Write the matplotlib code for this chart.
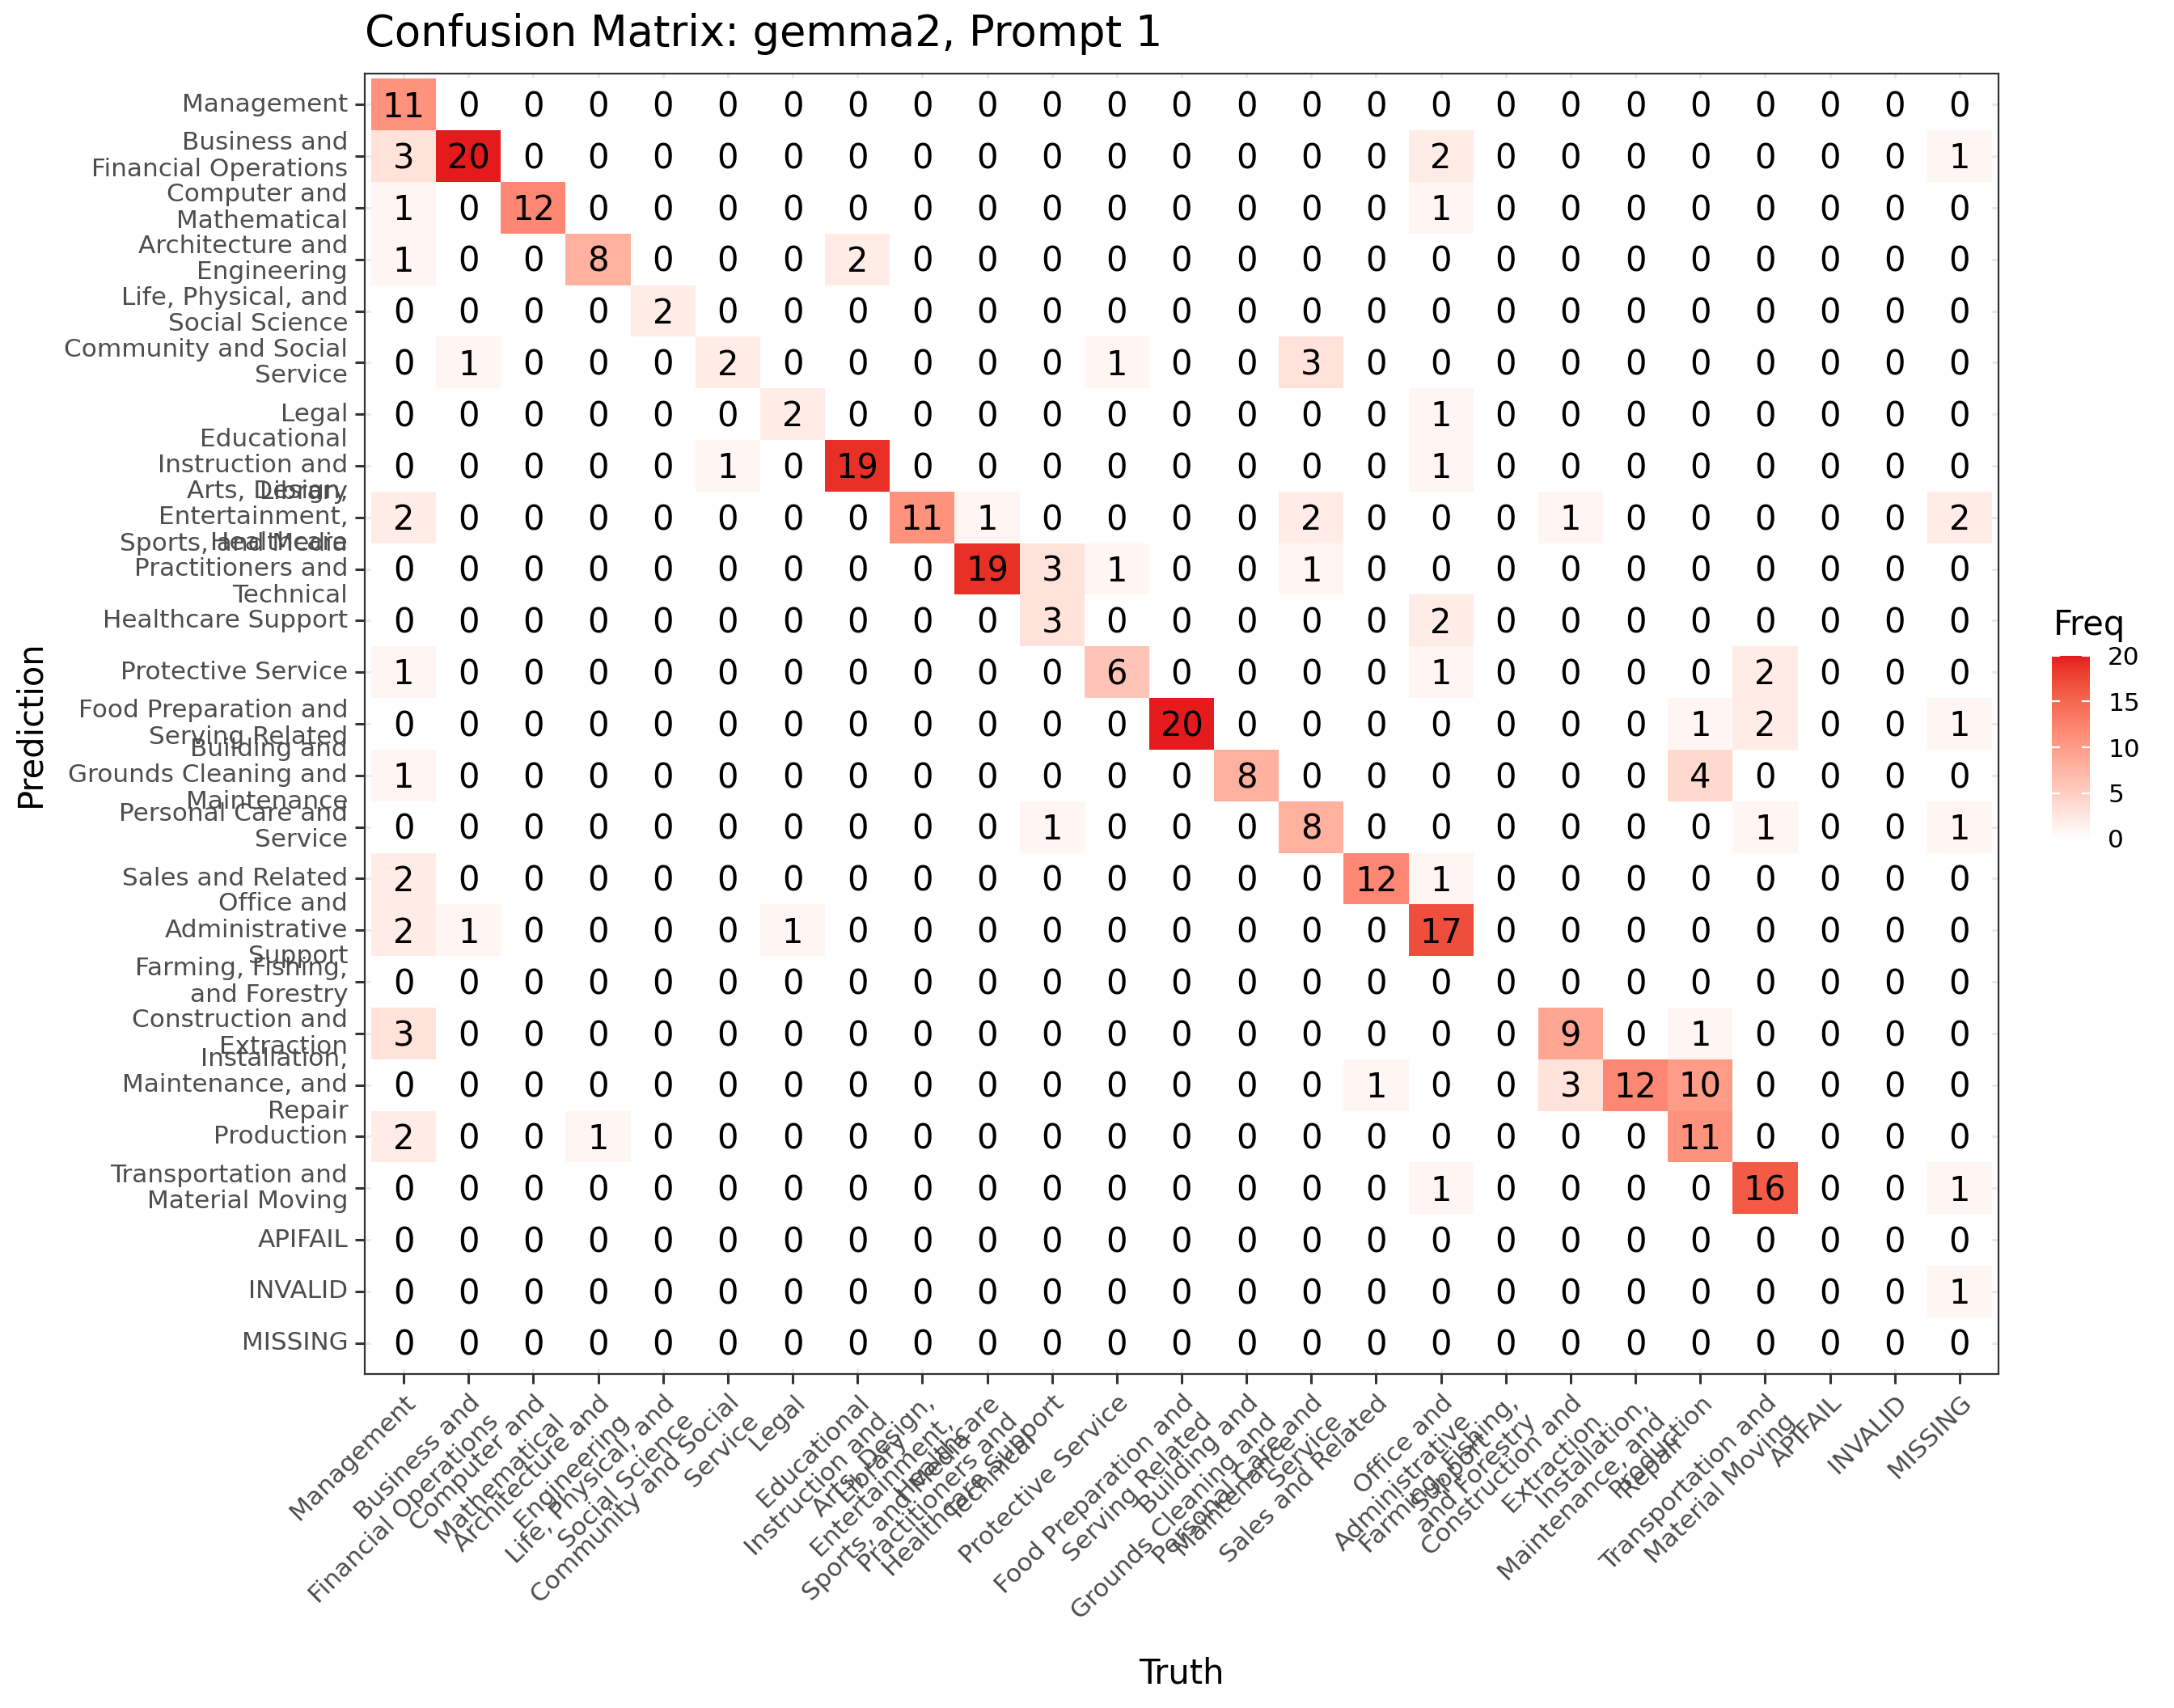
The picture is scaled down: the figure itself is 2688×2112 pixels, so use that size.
import numpy as np
import matplotlib
matplotlib.use("Agg")
import matplotlib.pyplot as plt
from matplotlib import transforms
from matplotlib.colors import ListedColormap

# categories (full names) and the wrapped labels shown on the axes
categories = [
    "Management", "Business and Financial Operations", "Computer and Mathematical",
    "Architecture and Engineering", "Life, Physical, and Social Science",
    "Community and Social Service", "Legal", "Educational Instruction and Library",
    "Arts, Design, Entertainment, Sports, and Media", "Healthcare Practitioners and Technical",
    "Healthcare Support", "Protective Service", "Food Preparation and Serving Related",
    "Building and Grounds Cleaning and Maintenance", "Personal Care and Service",
    "Sales and Related", "Office and Administrative Support", "Farming, Fishing, and Forestry",
    "Construction and Extraction", "Installation, Maintenance, and Repair", "Production",
    "Transportation and Material Moving", "APIFAIL", "INVALID", "MISSING",
]
tick_labels = [
    "Management", "Business and\nFinancial Operations", "Computer and\nMathematical",
    "Architecture and\nEngineering", "Life, Physical, and\nSocial Science",
    "Community and Social\nService", "Legal", "Educational\nInstruction and\nLibrary",
    "Arts, Design,\nEntertainment,\nSports, and Media", "Healthcare\nPractitioners and\nTechnical",
    "Healthcare Support", "Protective Service", "Food Preparation and\nServing Related",
    "Building and\nGrounds Cleaning and\nMaintenance", "Personal Care and\nService",
    "Sales and Related", "Office and\nAdministrative\nSupport", "Farming, Fishing,\nand Forestry",
    "Construction and\nExtraction", "Installation,\nMaintenance, and\nRepair", "Production",
    "Transportation and\nMaterial Moving", "APIFAIL", "INVALID", "MISSING",
]

# rows = prediction, columns = truth (same order as categories)
freq = [
    [11, 0, 0, 0, 0, 0, 0, 0, 0, 0, 0, 0, 0, 0, 0, 0, 0, 0, 0, 0, 0, 0, 0, 0, 0],
    [3, 20, 0, 0, 0, 0, 0, 0, 0, 0, 0, 0, 0, 0, 0, 0, 2, 0, 0, 0, 0, 0, 0, 0, 1],
    [1, 0, 12, 0, 0, 0, 0, 0, 0, 0, 0, 0, 0, 0, 0, 0, 1, 0, 0, 0, 0, 0, 0, 0, 0],
    [1, 0, 0, 8, 0, 0, 0, 2, 0, 0, 0, 0, 0, 0, 0, 0, 0, 0, 0, 0, 0, 0, 0, 0, 0],
    [0, 0, 0, 0, 2, 0, 0, 0, 0, 0, 0, 0, 0, 0, 0, 0, 0, 0, 0, 0, 0, 0, 0, 0, 0],
    [0, 1, 0, 0, 0, 2, 0, 0, 0, 0, 0, 1, 0, 0, 3, 0, 0, 0, 0, 0, 0, 0, 0, 0, 0],
    [0, 0, 0, 0, 0, 0, 2, 0, 0, 0, 0, 0, 0, 0, 0, 0, 1, 0, 0, 0, 0, 0, 0, 0, 0],
    [0, 0, 0, 0, 0, 1, 0, 19, 0, 0, 0, 0, 0, 0, 0, 0, 1, 0, 0, 0, 0, 0, 0, 0, 0],
    [2, 0, 0, 0, 0, 0, 0, 0, 11, 1, 0, 0, 0, 0, 2, 0, 0, 0, 1, 0, 0, 0, 0, 0, 2],
    [0, 0, 0, 0, 0, 0, 0, 0, 0, 19, 3, 1, 0, 0, 1, 0, 0, 0, 0, 0, 0, 0, 0, 0, 0],
    [0, 0, 0, 0, 0, 0, 0, 0, 0, 0, 3, 0, 0, 0, 0, 0, 2, 0, 0, 0, 0, 0, 0, 0, 0],
    [1, 0, 0, 0, 0, 0, 0, 0, 0, 0, 0, 6, 0, 0, 0, 0, 1, 0, 0, 0, 0, 2, 0, 0, 0],
    [0, 0, 0, 0, 0, 0, 0, 0, 0, 0, 0, 0, 20, 0, 0, 0, 0, 0, 0, 0, 1, 2, 0, 0, 1],
    [1, 0, 0, 0, 0, 0, 0, 0, 0, 0, 0, 0, 0, 8, 0, 0, 0, 0, 0, 0, 4, 0, 0, 0, 0],
    [0, 0, 0, 0, 0, 0, 0, 0, 0, 0, 1, 0, 0, 0, 8, 0, 0, 0, 0, 0, 0, 1, 0, 0, 1],
    [2, 0, 0, 0, 0, 0, 0, 0, 0, 0, 0, 0, 0, 0, 0, 12, 1, 0, 0, 0, 0, 0, 0, 0, 0],
    [2, 1, 0, 0, 0, 0, 1, 0, 0, 0, 0, 0, 0, 0, 0, 0, 17, 0, 0, 0, 0, 0, 0, 0, 0],
    [0, 0, 0, 0, 0, 0, 0, 0, 0, 0, 0, 0, 0, 0, 0, 0, 0, 0, 0, 0, 0, 0, 0, 0, 0],
    [3, 0, 0, 0, 0, 0, 0, 0, 0, 0, 0, 0, 0, 0, 0, 0, 0, 0, 9, 0, 1, 0, 0, 0, 0],
    [0, 0, 0, 0, 0, 0, 0, 0, 0, 0, 0, 0, 0, 0, 0, 1, 0, 0, 3, 12, 10, 0, 0, 0, 0],
    [2, 0, 0, 1, 0, 0, 0, 0, 0, 0, 0, 0, 0, 0, 0, 0, 0, 0, 0, 0, 11, 0, 0, 0, 0],
    [0, 0, 0, 0, 0, 0, 0, 0, 0, 0, 0, 0, 0, 0, 0, 0, 1, 0, 0, 0, 0, 16, 0, 0, 1],
    [0, 0, 0, 0, 0, 0, 0, 0, 0, 0, 0, 0, 0, 0, 0, 0, 0, 0, 0, 0, 0, 0, 0, 0, 0],
    [0, 0, 0, 0, 0, 0, 0, 0, 0, 0, 0, 0, 0, 0, 0, 0, 0, 0, 0, 0, 0, 0, 0, 0, 1],
    [0, 0, 0, 0, 0, 0, 0, 0, 0, 0, 0, 0, 0, 0, 0, 0, 0, 0, 0, 0, 0, 0, 0, 0, 0],
]
freq_ticks = [0, 5, 10, 15, 20]


# white -> red gradient, interpolated in CIELab like ggplot does
def srgb_to_lab(rgb):
    c = np.asarray(rgb, dtype=float)
    lin = np.where(c <= 0.04045, c / 12.92, ((c + 0.055) / 1.055) ** 2.4)
    m = np.array([[0.4124, 0.3576, 0.1805], [0.2126, 0.7152, 0.0722], [0.0193, 0.1192, 0.9505]])
    xyz = m @ lin / np.array([0.95047, 1.0, 1.08883])
    f = np.where(xyz > 0.008856, np.cbrt(xyz), 7.787 * xyz + 16 / 116)
    return np.array([116 * f[1] - 16, 500 * (f[0] - f[1]), 200 * (f[1] - f[2])])


def lab_to_srgb(lab):
    L, a, b = lab
    fy = (L + 16) / 116
    f = np.array([fy + a / 500, fy, fy - b / 200])
    xyz = np.where(f ** 3 > 0.008856, f ** 3, (f - 16 / 116) / 7.787) * np.array([0.95047, 1.0, 1.08883])
    m = np.array([[3.2406, -1.5372, -0.4986], [-0.9689, 1.8758, 0.0415], [0.0557, -0.2040, 1.0570]])
    lin = np.clip(m @ xyz, 0, 1)
    c = np.where(lin <= 0.0031308, 12.92 * lin, 1.055 * lin ** (1 / 2.4) - 0.055)
    return np.clip(c, 0, 1)


low = srgb_to_lab([1.0, 1.0, 1.0])
high = srgb_to_lab(matplotlib.colors.to_rgb("#E41A1C"))
cmap = ListedColormap([lab_to_srgb(low + t * (high - low)) for t in np.linspace(0, 1, 256)])

W, H = 2688, 2112
fig = plt.figure(figsize=(W / 200, H / 200), dpi=200)
ax = fig.add_axes([451 / W, 1 - 1699 / H, (2471 - 451) / W, (1699 - 91) / H])

data = np.array(freq)
n = len(categories)
edges = np.arange(n + 1) - 0.5
mesh = ax.pcolormesh(edges, edges, data, cmap=cmap, vmin=0, vmax=20, zorder=1)

# cell labels, centred on the digits' ink
txt_tr = transforms.offset_copy(ax.transData, fig=fig, y=-5.5, units="points")
for i in range(n):
    for j in range(n):
        ax.text(j, i, str(data[i, j]), ha="center", va="baseline", fontsize=15,
                color="black", transform=txt_tr, zorder=3)

ax.set_xlim(-0.6, n - 0.4)
ax.set_ylim(n - 0.4, -0.6)
ax.set_axisbelow(True)
ax.grid(True, color="#EBEBEB", linewidth=1.1)
for s in ax.spines.values():
    s.set_color("#333333")
    s.set_linewidth(0.8)

ax.set_xticks(range(n))
ax.set_yticks(range(n))
ax.set_xticklabels(tick_labels, rotation=45, ha="right", va="top", rotation_mode="anchor")
ax.set_yticklabels(tick_labels, va="center")
ax.tick_params(length=4.3, width=1.1, color="#333333", labelsize=11.2, labelcolor="#4D4D4D", pad=3.2)
for lbl in ax.get_xticklabels() + ax.get_yticklabels():
    lbl.set_linespacing(1.15)

fig.text(451 / W, 1 - 57 / H, "Confusion Matrix: gemma2, Prompt 1", ha="left", va="baseline", fontsize=19)
fig.text(1461 / W, 1 - 2082 / H, "Truth", ha="center", va="baseline", fontsize=15)
fig.text(37 / W, 1 - 895 / H, "Prediction", ha="center", va="center", rotation=90, fontsize=15)

# legend colourbar
cax = fig.add_axes([2537 / W, 1 - 1037 / H, 47 / W, 226 / H])
cb = fig.colorbar(mesh, cax=cax, ticks=freq_ticks)
cb.outline.set_visible(False)
cax.tick_params(length=0, labelsize=11.2, labelcolor="black", pad=8)
for v in freq_ticks:
    cax.plot([0, 0.2], [v, v], color="white", linewidth=0.8)
    cax.plot([0.8, 1], [v, v], color="white", linewidth=0.8)
fig.text(2539 / W, 1 - 785 / H, "Freq", ha="left", va="baseline", fontsize=15)

fig.savefig("out.png", dpi=200, facecolor="white")
